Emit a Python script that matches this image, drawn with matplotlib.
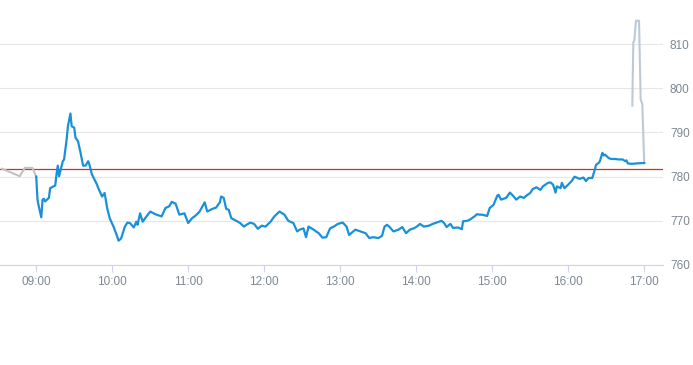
import pandas as pd
import matplotlib
matplotlib.use("Agg")
import matplotlib.pyplot as plt
import matplotlib.dates as mdates

# pre-market (grey)
pre_times = ["08:33", "08:47", "08:51", "08:57", "09:00"]
pre_vals = [781.8, 780.1, 782.0, 782.0, 780.0]

# regular session (blue)
day_times = [
    "09:00", "09:01", "09:02", "09:04", "09:05", "09:06", "09:07", "09:10", "09:11", "09:13",
    "09:15", "09:16", "09:17", "09:18", "09:19", "09:21", "09:22", "09:24", "09:25", "09:27",
    "09:28", "09:30", "09:31", "09:33", "09:35", "09:37", "09:39", "09:41", "09:42", "09:44",
    "09:48", "09:49", "09:52", "09:54", "09:56", "09:58", "10:01", "10:04", "10:05", "10:07",
    "10:10", "10:12", "10:14", "10:17", "10:19", "10:20", "10:22", "10:24", "10:26", "10:30",
    "10:34", "10:39", "10:42", "10:45", "10:47", "10:50", "10:53", "10:57", "11:00", "11:03",
    "11:05", "11:07", "11:09", "11:13", "11:15", "11:19", "11:22", "11:25", "11:26", "11:28",
    "11:30", "11:32", "11:34", "11:38", "11:41", "11:44", "11:46", "11:49", "11:52", "11:55",
    "11:58", "12:01", "12:05", "12:08", "12:12", "12:16", "12:19", "12:23", "12:26", "12:28",
    "12:31", "12:33", "12:35", "12:39", "12:43", "12:46", "12:49", "12:52", "12:55", "12:58",
    "13:02", "13:05", "13:07", "13:12", "13:16", "13:20", "13:23", "13:26", "13:30", "13:33",
    "13:35", "13:37", "13:39", "13:42", "13:46", "13:49", "13:52", "13:55", "13:58", "14:00",
    "14:03", "14:06", "14:10", "14:13", "14:16", "14:20", "14:22", "14:24", "14:27", "14:29",
    "14:33", "14:36", "14:37", "14:40", "14:42", "14:46", "14:48", "14:50", "14:52", "14:56",
    "14:58", "15:01", "15:04", "15:05", "15:07", "15:11", "15:14", "15:17", "15:19", "15:22",
    "15:25", "15:27", "15:30", "15:32", "15:35", "15:38", "15:40", "15:44", "15:46", "15:48",
    "15:50", "15:51", "15:54", "15:55", "15:57", "16:00", "16:03", "16:05", "16:09", "16:12",
    "16:14", "16:16", "16:19", "16:21", "16:22", "16:24", "16:25", "16:27", "16:28", "16:29",
    "16:32", "16:34", "16:37", "16:40", "16:43", "16:45", "16:46", "16:47", "16:50", "16:54",
    "17:00",
]
day_vals = [
    780.0, 774.8, 773.3, 770.8, 774.8, 775.0, 774.4, 775.2, 777.4, 777.7,
    778.0, 780.5, 782.5, 780.1, 781.2, 783.5, 783.9, 788.4, 791.4, 794.3,
    791.4, 791.1, 788.8, 788.0, 785.4, 782.5, 782.5, 783.5, 782.7, 780.5,
    778.2, 777.4, 775.5, 776.3, 772.9, 770.6, 768.7, 766.4, 765.5, 766.0,
    768.7, 769.6, 769.5, 768.5, 769.8, 769.1, 771.7, 769.8, 770.6, 772.1,
    771.5, 771.0, 772.9, 773.3, 774.3, 773.9, 771.4, 771.7, 769.5, 770.6,
    771.0, 771.5, 772.1, 774.2, 772.1, 772.7, 773.0, 774.2, 775.5, 775.2,
    772.7, 772.5, 770.6, 770.0, 769.5, 768.7, 769.1, 769.6, 769.3, 768.2,
    768.9, 768.7, 769.8, 771.0, 772.1, 771.4, 770.0, 769.5, 767.6, 768.0,
    768.3, 766.3, 768.7, 768.0, 767.2, 766.2, 766.3, 768.3, 768.7, 769.3,
    769.6, 768.7, 766.8, 768.0, 767.6, 767.2, 766.1, 766.3, 766.1, 766.6,
    768.7, 769.1, 768.6, 767.6, 768.0, 768.6, 767.2, 768.0, 768.3, 768.6,
    769.3, 768.7, 768.9, 769.3, 769.6, 770.0, 769.5, 768.6, 769.3, 768.4,
    768.5, 768.1, 769.9, 770.0, 770.2, 771.0, 771.5, 771.4, 771.4, 771.1,
    772.9, 773.6, 775.7, 775.9, 774.8, 775.2, 776.4, 775.5, 774.8, 775.5,
    775.2, 775.7, 776.3, 777.2, 777.6, 777.0, 777.8, 778.6, 778.7, 778.2,
    776.4, 777.8, 777.4, 778.6, 777.4, 778.2, 779.1, 780.0, 779.5, 779.8,
    779.0, 779.7, 779.7, 781.6, 782.7, 783.1, 783.5, 785.4, 784.8, 785.0,
    784.2, 784.0, 784.0, 783.9, 783.9, 783.5, 783.7, 783.0, 782.9, 783.0,
    783.1,
]

# after-hours (grey-blue)
post_times = ["16:50:36", "16:51:24", "16:52:12", "16:53:30", "16:55:54", "16:57:12", "16:58:30", "17:00:00"]
post_vals = [796.1, 810.4, 810.8, 815.3, 815.3, 797.5, 796.4, 783.1]

prev_close = 781.75
y_ticks = [760, 770, 780, 790, 800, 810]
hour_ticks = ["09:00", "10:00", "11:00", "12:00", "13:00", "14:00", "15:00", "16:00", "17:00"]


def to_dt(ts):
    return pd.to_datetime(["2000-01-01 " + t for t in ts])


plt.rcParams['font.family'] = ['Liberation Sans Narrow', 'Liberation Sans', 'DejaVu Sans']

fig = plt.figure(figsize=(6.93, 3.65), dpi=100)
ax = fig.add_axes([0.0, 1 - 265 / 365, 663 / 693, 265 / 365])

ax.plot(to_dt(pre_times), pre_vals, color='#c2c2c2', lw=1.5, zorder=3)
ax.plot(to_dt(post_times), post_vals, color='#bccad6', lw=1.5, zorder=3)
ax.plot(to_dt(day_times), day_vals, color='#1a90d9', lw=1.6, zorder=4)
ax.axhline(prev_close, color='#c9302c', lw=0.9, zorder=2)

ax.set_xlim(pd.Timestamp("2000-01-01 08:31:24"), pd.Timestamp("2000-01-01 17:14:50"))
ax.set_ylim(760, 820)

ax.yaxis.tick_right()
ax.set_yticks(y_ticks)
ax.set_xticks(to_dt(hour_ticks))
ax.xaxis.set_major_formatter(mdates.DateFormatter('%H:%M'))
ax.tick_params(axis='y', length=0, pad=5, labelsize=8.5, labelcolor='#7d8894')
ax.tick_params(axis='x', length=5, width=0.8, color='#ccd6eb', pad=3, labelsize=8.5, labelcolor='#7d8894')

ax.grid(axis='y', color='#e6e6e6', lw=0.8)
ax.set_axisbelow(True)
for s in ['top', 'right', 'left']:
    ax.spines[s].set_visible(False)
ax.spines['bottom'].set_color('#ccd6eb')
ax.spines['bottom'].set_linewidth(0.8)

fig.savefig('out.png', dpi=100)
